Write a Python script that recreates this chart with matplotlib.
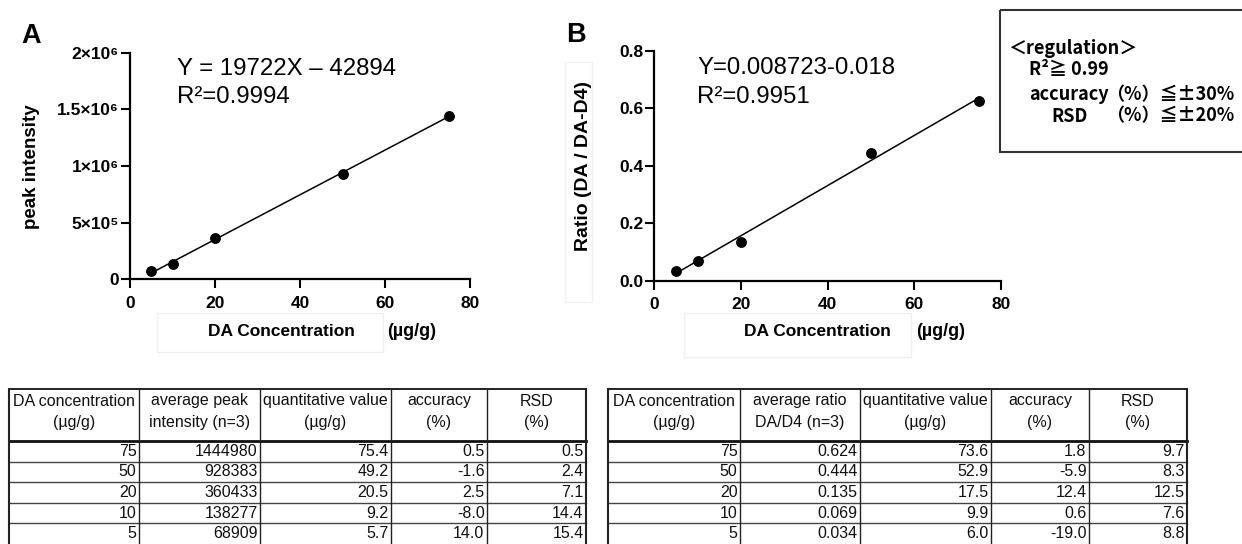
import matplotlib
matplotlib.use("Agg")
import matplotlib.pyplot as plt
from matplotlib.patches import Rectangle
import numpy as np

# ---------------- data ----------------
conc = [75, 50, 20, 10, 5]
peak_intensity = [1444980, 928383, 360433, 138277, 68909]
quant_A = [75.4, 49.2, 20.5, 9.2, 5.7]
acc_A = [0.5, -1.6, 2.5, -8.0, 14.0]
rsd_A = [0.5, 2.4, 7.1, 14.4, 15.4]

ratio = [0.624, 0.444, 0.135, 0.069, 0.034]
quant_B = [73.6, 52.9, 17.5, 9.9, 6.0]
acc_B = [1.8, -5.9, 12.4, 0.6, -19.0]
rsd_B = [9.7, 8.3, 12.5, 7.6, 8.8]

slope_A, intercept_A = 19722, -42894
slope_B, intercept_B = 0.008723, -0.018
fit_range = [5, 75]

eq_A = ["Y = 19722X \u2013 42894", "R\u00b2=0.9994"]
eq_B = ["Y=0.008723-0.018", "R\u00b2=0.9951"]

x_ticks = [0, 20, 40, 60, 80]
A_yticks = [0, 5e5, 1e6, 1.5e6, 2e6]
A_yticklabels = ["0", "5\u00d710\u2075", "1\u00d710\u2076", "1.5\u00d710\u2076", "2\u00d710\u2076"]
B_yticks = [0.0, 0.2, 0.4, 0.6, 0.8]

headers_A = [("DA concentration", "(\u00b5g/g)"), ("average peak", "intensity (n=3)"),
             ("quantitative value", "(\u00b5g/g)"), ("accuracy", "(%)"), ("RSD", "(%)")]
headers_B = [("DA concentration", "(\u00b5g/g)"), ("average ratio", "DA/D4 (n=3)"),
             ("quantitative value", "(\u00b5g/g)"), ("accuracy", "(%)"), ("RSD", "(%)")]

regulation_lines = ["\uff1cregulation\uff1e", "R\u00b2\u2267\u00a00.99",
                    "accuracy", "\uff08%\uff09\u2266\u00b130%",
                    "RSD", "\uff08%\uff09\u2266\u00b120%"]

# ---------------- figure ----------------
W, H = 1242, 544
fig = plt.figure(figsize=(W / 100, H / 100), dpi=100)
SANS = ["Liberation Sans", "DejaVu Sans"]
CJK = ["Noto Sans CJK JP", "DejaVu Sans"]
plt.rcParams["font.family"] = SANS

# overlay axes in pixel coordinates for tables / annotations
ov = fig.add_axes([0, 0, 1, 1])
ov.set_xlim(0, W)
ov.set_ylim(H, 0)
ov.axis("off")
ov.patch.set_alpha(0)


def make_axes(l, t, r, b):
    return fig.add_axes([l / W, 1 - b / H, (r - l) / W, (b - t) / H])


def style(ax):
    for s in ["top", "right"]:
        ax.spines[s].set_visible(False)
    for s in ["left", "bottom"]:
        ax.spines[s].set_linewidth(1.6)
    ax.tick_params(direction="out", length=6.5, width=1.5, labelsize=12.5, pad=1.5)
    ax.tick_params(axis="x", pad=5.5)
    for lab in ax.get_xticklabels() + ax.get_yticklabels():
        lab.set_fontweight("bold")
        lab.set_family(SANS)
    ax.patch.set_alpha(0)


# ---- panel A ----
axA = make_axes(130, 52.7, 470, 279.3)
axA.plot(conc, peak_intensity, "o", color="black", markersize=6.8, zorder=3)
fx = np.array(fit_range, dtype=float)
axA.plot(fx, slope_A * fx + intercept_A, color="black", lw=1.1)
axA.set_xlim(0, 80)
axA.set_ylim(0, 2e6)
axA.set_xticks(x_ticks)
axA.set_yticks(A_yticks)
axA.set_yticklabels(A_yticklabels)
style(axA)

# ---- panel B ----
axB = make_axes(654.3, 50.7, 1001, 280.7)
axB.plot(conc, ratio, "o", color="black", markersize=6.8, zorder=3)
axB.plot(fx, slope_B * fx + intercept_B, color="black", lw=1.1)
axB.set_xlim(0, 80)
axB.set_ylim(0, 0.8)
axB.set_xticks(x_ticks)
axB.set_yticks(B_yticks)
axB.set_yticklabels([f"{v:.1f}" for v in B_yticks])
style(axB)

# faint boxes behind labels
for (x0, y0, x1, y1) in [(157, 313, 383, 352), (684, 313, 911, 357), (565, 62, 592, 302)]:
    ov.add_patch(Rectangle((x0, y0), x1 - x0, y1 - y0, fill=False, ec="#f0f0f0", lw=1))

# panel letters
ov.text(21, 43, "A", fontsize=19.5, fontweight="bold", va="baseline", ha="left")
ov.text(566, 42, "B", fontsize=19.5, fontweight="bold", va="baseline", ha="left")

# equations
ov.text(177, 75, eq_A[0], fontsize=17.3, va="baseline", ha="left")
ov.text(177, 103, eq_A[1], fontsize=17.3, va="baseline", ha="left")
ov.text(697, 74, eq_B[0], fontsize=17.3, va="baseline", ha="left")
ov.text(697, 103, eq_B[1], fontsize=17.3, va="baseline", ha="left")

# axis labels
ov.text(32, 167, "peak intensity", fontsize=13.5, fontweight="bold", rotation=90,
        ha="center", va="center")
ov.text(583, 166, "Ratio (DA / DA-D4)", fontsize=14, fontweight="bold", rotation=90,
        ha="center", va="center")
ov.text(208, 332, "DA Concentration", fontsize=12.5, fontweight="bold", ha="left", va="center")
ov.text(387, 331, "(\u00b5g/g)", fontsize=13, fontweight="bold", ha="left", va="center")
ov.text(744, 332, "DA Concentration", fontsize=12.5, fontweight="bold", ha="left", va="center")
ov.text(916, 331, "(\u00b5g/g)", fontsize=13, fontweight="bold", ha="left", va="center")

# regulation box
ov.add_patch(Rectangle((1000, 10), 260, 142, fill=False, ec="#333333", lw=1.5, clip_on=False))
rk = dict(fontsize=13, fontweight="bold", family=CJK, va="center", ha="left")
ov.text(1008, 49, regulation_lines[0], **rk)
ov.text(1029, 70, regulation_lines[1], **rk)
ov.text(1029, 95, regulation_lines[2], **rk)
ov.text(1106, 95, regulation_lines[3], **rk)
ov.text(1051, 116, regulation_lines[4], **rk)
ov.text(1106, 116, regulation_lines[5], **rk)


# ---------------- tables ----------------
def draw_table(cols, headers, columns, fmts):
    top, hdr_bot, bot = 389, 441, 544
    nrow = len(columns[0])
    rh = (bot - hdr_bot) / nrow
    ov.plot([cols[0], cols[-1]], [top, top], color="#222222", lw=1.4)
    ov.plot([cols[0], cols[-1]], [hdr_bot, hdr_bot], color="#111111", lw=2.0)
    for i in range(1, nrow):
        y = hdr_bot + i * rh
        ov.plot([cols[0], cols[-1]], [y, y], color="#444444", lw=1.0)
    for j, x in enumerate(cols):
        lw = 1.5 if j in (0, len(cols) - 1) else 1.0
        ov.plot([x, x], [top, bot], color="#222222", lw=lw)
    for j, (h1, h2) in enumerate(headers):
        cx = (cols[j] + cols[j + 1]) / 2
        ov.text(cx, 401, h1, fontsize=11.5, ha="center", va="center", color="#111111")
        ov.text(cx, 422, h2, fontsize=11.5, ha="center", va="center", color="#111111")
    for j, (vals, f) in enumerate(zip(columns, fmts)):
        for i, v in enumerate(vals):
            y = hdr_bot + (i + 0.5) * rh
            ov.text(cols[j + 1] - 2.5, y, format(v, f), fontsize=11.5, ha="right",
                    va="center", color="#111111")


draw_table([9, 139, 260, 391, 487, 586], headers_A,
           [conc, peak_intensity, quant_A, acc_A, rsd_A], ["d", "d", ".1f", ".1f", ".1f"])
draw_table([608, 740, 860, 991, 1089, 1187], headers_B,
           [conc, ratio, quant_B, acc_B, rsd_B], ["d", ".3f", ".1f", ".1f", ".1f"])

fig.savefig("out.png", dpi=100)
